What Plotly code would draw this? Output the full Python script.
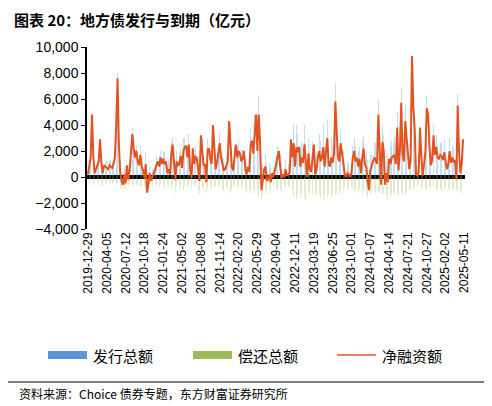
import pandas as pd
import plotly.graph_objects as go

# weekly net financing (亿元)
net = [200, 800, 1500, 4800, 1500, 300, 600, 800, 1200, 2900, 1000, 300, 900, 800, 700, 600, 900, 800, 700, 1000,
       1500, 4000, 7600, 2500, 300, -300, -600, 200, -500, 900, -200, 500, 2000, 3300, 2200, 1500, 2000, 1200, 900, 1700,
       800, 500, -100, 1000, -1200, -200, 300, -300, 0, 200, 500, 900, 1200, 800, 1500, 1000, 1400, 1000, 1200, 300,
       600, 200, 1800, 2500, 800, -200, 1200, 900, 1000, 1600, 700, 2000, 2300, 2400, 1500, 2500, 600, -100, 2200, 1000,
       1600, 1400, 500, -300, 3200, 2200, 900, 1000, -400, 2100, 2200, 1400, 1000, 4000, 2500, 600, 1100, 1700, 2600, 1500,
       1000, 500, 600, 1000, 1200, 4300, 2500, 800, 500, 1600, 2500, 1500, 2000, 1800, 1200, 1400, 2000, 600, 200, 800,
       400, 2500, 2800, 1800, 3600, 4800, 2000, 4800, 2700, -1000, -300, 600, 800, -300, -200, 200, -400, 300, 0, 500,
       800, 1300, 2000, 800, -100, 200, 0, 600, 100, 200, 300, 2900, 1500, 2600, 800, 2300, 1900, 2300, 800, 1500,
       1100, 2500, 800, 0, 1800, 600, 400, 1400, 2500, 200, 500, 1500, 2000, 1200, 1500, 2300, 800, 1900, 3000, 1000,
       800, 1500, 1100, 1800, 5800, 3500, 1500, 1200, 2600, 1800, 1000, 200, 0, 300, 200, 0, 300, 1500, 2000, 1200,
       1500, 800, 1400, 300, 1500, 2200, 1000, 700, -300, -1000, 500, 800, 1100, 1500, 1300, 1000, 4800, 1900, -600, 2700,
       2000, -600, 300, -400, 1400, 1000, 1500, 1600, 1700, 1000, 3800, 500, 2000, 5700, 1800, 1200, 4300, 3000, 1500, 600,
       1300, 9300, 5400, 3700, 200, 100, 400, 3800, 1500, 100, 1000, 2000, 5300, 4800, 2300, 900, 1300, 3200, 1700, 2300,
       1500, 1400, 1700, 1600, 1300, 1900, 1200, 600, 1000, 2000, 1100, 1500, 1200, 1300, -200, 5500, 2000, 300, 1000, 2900]

# weekly redemption (亿元)
redemption = [300, 400, 200, 500, 600, 300, 200, 400, 500, 300, 600, 700, 400, 300, 500, 400, 300, 600, 500, 400,
              500, 600, 400, 800, 900, 700, 1000, 600, 900, 500, 700, 400, 600, 500, 800, 700, 500, 600, 900, 700,
              600, 800, 700, 900, 1300, 600, 500, 700, 600, 400, 500, 700, 600, 800, 500, 700, 600, 900, 700, 600,
              800, 700, 900, 600, 1000, 1200, 800, 700, 900, 600, 800, 1000, 700, 900, 600, 800, 1100, 900, 700, 600,
              800, 900, 1100, 1300, 700, 800, 900, 1000, 1200, 800, 600, 700, 900, 1000, 800, 700, 900, 600, 800, 700,
              900, 1000, 800, 700, 900, 1000, 1200, 900, 800, 700, 1000, 900, 800, 1100, 900, 700, 800, 1000, 1200, 900,
              1000, 1300, 1100, 900, 1200, 1400, 1000, 1500, 1200, 1800, 1400, 1200, 1000, 1300, 1100, 900, 1200, 1000, 800, 700,
              900, 1100, 800, 1000, 1200, 900, 800, 700, 900, 800, 700, 1300, 1000, 1500, 1200, 1700, 1400, 1900, 1600, 1200,
              1300, 1500, 1800, 1200, 1100, 1400, 1600, 1300, 2000, 1200, 1400, 1100, 1300, 1600, 1200, 1800, 1400, 1100, 1500, 1300,
              1200, 1500, 1300, 1100, 1400, 1200, 1000, 1300, 1100, 900, 1000, 800, 700, 900, 800, 700, 800, 900, 1000, 1100,
              1000, 1200, 900, 1100, 1300, 1000, 1200, 1400, 1600, 1500, 1200, 1000, 1400, 1100, 1300, 1600, 1200, 1100, 1500, 1300,
              1200, 1600, 1400, 1800, 1200, 1500, 1300, 1100, 1400, 1600, 1300, 1500, 1100, 1200, 1400, 1600, 1300, 1100, 1200, 1000,
              900, 1100, 1000, 800, 900, 700, 600, 800, 900, 700, 800, 900, 1000, 800, 700, 900, 600, 800, 700, 900,
              1000, 800, 900, 1100, 900, 1000, 800, 1100, 900, 1000, 1200, 900, 1000, 1300, 1100, 900, 1200, 1000, 1300, 1100]

dates = pd.date_range("2019-12-29", periods=len(net), freq="7D")
issuance = [n + r for n, r in zip(net, redemption)]
tick_dates = pd.date_range("2019-12-29", "2025-05-11", freq="98D")

font = "Noto Sans CJK SC"
bar_w = 7 * 24 * 3600 * 1000 * 0.5
OFF = 8  # page body margin
W, H = 492, 406
L, R, T, B = 87 - OFF, W - 465 + OFF, 47 - OFF, H - 229 + OFF


def px(x):  # reference pixel -> paper x
    return (x - OFF - L) / (W - L - R)


def py(y):  # reference pixel -> paper y
    return (H - B - (y - OFF)) / (H - T - B)


fig = go.Figure()
fig.add_trace(go.Bar(x=dates, y=issuance, name="发行总额", width=bar_w,
                     marker=dict(color="rgba(91,155,213,0.35)", line_width=0)))
fig.add_trace(go.Bar(x=dates, y=[-r for r in redemption], name="偿还总额", width=bar_w,
                     marker=dict(color="rgba(155,187,89,0.3)", line_width=0)))
fig.add_trace(go.Scatter(x=dates, y=net, name="净融资额", mode="lines",
                         line=dict(color="#e2531f", width=2)))

fig.update_layout(
    width=W, height=H, barmode="overlay", bargap=0,
    margin=dict(l=L, r=R, t=T, b=B, autoexpand=False),
    paper_bgcolor="white", plot_bgcolor="white",
    font=dict(family=font, size=13, color="black"),
    showlegend=False,
)
fig.update_xaxes(tickvals=tick_dates, ticktext=[d.strftime("%Y-%m-%d") for d in tick_dates],
                 tickangle=-90, showgrid=False, showline=False, ticks="",
                 range=[dates[0] - pd.Timedelta(days=5), dates[-1] + pd.Timedelta(days=10)],
                 tickfont=dict(size=12, family="Liberation Sans"))
fig.update_yaxes(range=[-4000, 10000], dtick=2000, tickformat=",", showgrid=False,
                 showline=True, linecolor="black", linewidth=1.5, ticks="outside",
                 ticklen=4, tickcolor="black", zeroline=True, zerolinecolor="black",
                 zerolinewidth=4, tickfont=dict(size=14, family="Liberation Sans"))

fig.add_annotation(text="<b>图表 20：地方债发行与到期（亿元）</b>", xref="paper", yref="paper",
                   x=px(12), y=py(19), xanchor="left", yanchor="middle", showarrow=False,
                   font=dict(size=15))

# hand-placed legend
legend_items = [("发行总额", "#5b95d8", "box", 48),
                ("偿还总额", "#9bbb59", "box", 193),
                ("净融资额", "#e2531f", "line", 337)]
for label, color, kind, x0 in legend_items:
    if kind == "box":
        fig.add_shape(type="rect", xref="paper", yref="paper", x0=px(x0), x1=px(x0 + 39),
                      y0=py(359), y1=py(351), fillcolor=color, line_width=0)
    else:
        fig.add_shape(type="line", xref="paper", yref="paper", x0=px(x0), x1=px(x0 + 39),
                      y0=py(355), y1=py(355), line=dict(color=color, width=1.5))
    fig.add_annotation(text=label, xref="paper", yref="paper", x=px(x0 + 43), y=py(355),
                       xanchor="left", yanchor="middle", showarrow=False, font=dict(size=15))

fig.add_shape(type="line", xref="paper", yref="paper", x0=px(5), x1=px(487),
              y0=py(382), y1=py(382), line=dict(color="black", width=1))
fig.add_annotation(text="资料来源：Choice 债券专题，东方财富证券研究所", xref="paper", yref="paper",
                   x=px(17), y=py(393), xanchor="left", yanchor="middle", showarrow=False,
                   font=dict(size=12))
fig.write_html("out.html")
